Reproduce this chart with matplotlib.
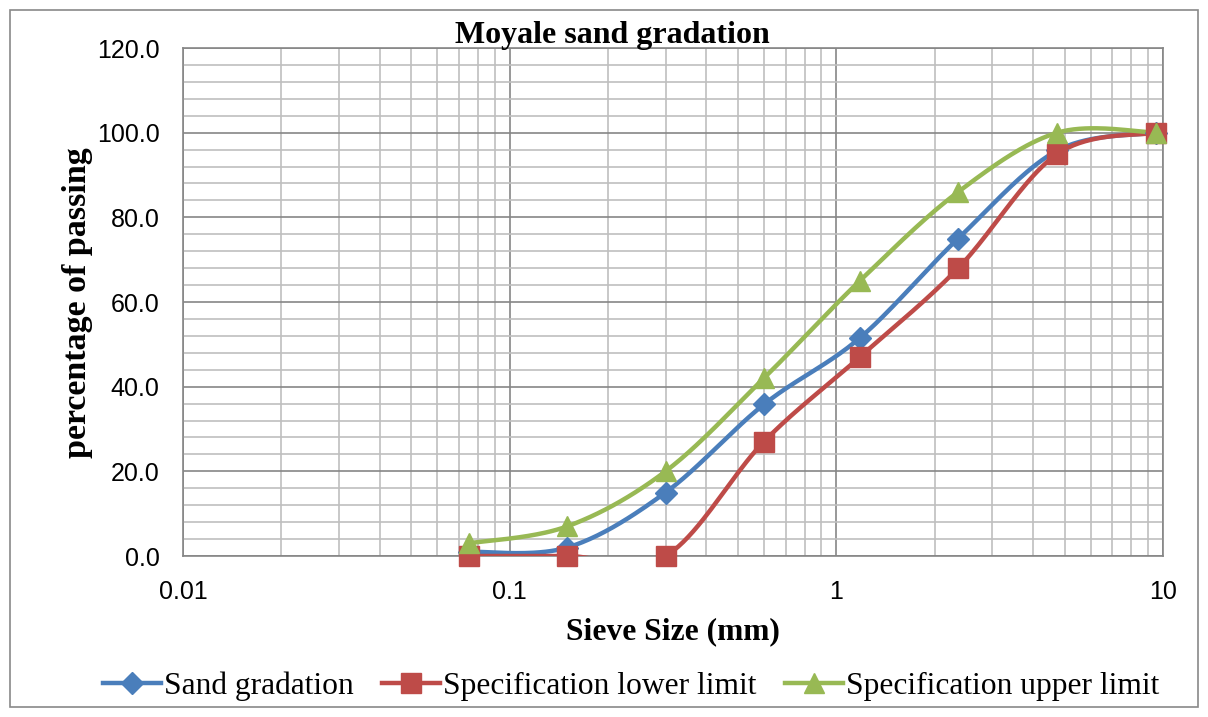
import numpy as np
import matplotlib
matplotlib.use("Agg")
import matplotlib.pyplot as plt
from matplotlib.patches import Rectangle
from matplotlib.ticker import FixedLocator, LogLocator, MultipleLocator, NullFormatter

# ---- data ----
sieve_mm = [0.075, 0.15, 0.3, 0.6, 1.18, 2.36, 4.75, 9.5]
sand_gradation = [1.0, 2.0, 15.0, 35.8, 51.5, 75.0, 95.8, 100.0]
spec_lower = [0.0, 0.0, 0.0, 27.0, 47.0, 68.0, 95.0, 100.0]
spec_upper = [3.0, 7.0, 20.0, 42.0, 65.0, 86.0, 100.0, 100.0]
series_names = ["Sand gradation", "Specification lower limit", "Specification upper limit"]
x_ticks = [0.01, 0.1, 1, 10]
x_tick_labels = ["0.01", "0.1", "1", "10"]

colors = ["#4A7EBB", "#BE4B48", "#98B954"]
markers = ["D", "s", "^"]
msizes = [11, 14, 15]


def smooth(xs, ys, n=40):
    """Excel-like smoothed line (Catmull-Rom Bezier) in log-x space."""
    lx = np.log10(np.asarray(xs, float))
    y = np.asarray(ys, float)
    P = np.column_stack([lx, y])
    out = []
    m = len(P)
    for i in range(m - 1):
        p0 = P[i - 1] if i > 0 else P[i]
        p1 = P[i]
        p2 = P[i + 1]
        p3 = P[i + 2] if i + 2 < m else P[i + 1]
        c1 = p1 + (p2 - p0) / 6.0
        c2 = p2 - (p3 - p1) / 6.0
        t = np.linspace(0, 1, n)[:, None]
        b = ((1 - t) ** 3) * p1 + 3 * ((1 - t) ** 2) * t * c1 + 3 * (1 - t) * t ** 2 * c2 + t ** 3 * p2
        out.append(b if i == 0 else b[1:])
    B = np.vstack(out)
    return 10 ** B[:, 0], B[:, 1]


fig = plt.figure(figsize=(12.08, 7.17), dpi=100)
fig.patches.append(Rectangle((10 / 1208, 1 - 707 / 717), 1188 / 1208, 697 / 717,
                             transform=fig.transFigure, fill=False,
                             edgecolor="#898989", linewidth=1.2))

ax = fig.add_axes([183 / 1208, 1 - 556 / 717, (1163 - 183) / 1208, (556 - 48) / 717])
ax.set_xscale("log")
ax.set_xlim(0.01, 10)
ax.set_ylim(0, 120)

ax.xaxis.set_major_locator(FixedLocator(x_ticks))
ax.set_xticklabels(x_tick_labels)
ax.xaxis.set_minor_locator(LogLocator(base=10, subs=np.arange(2, 10), numticks=20))
ax.xaxis.set_minor_formatter(NullFormatter())
ax.yaxis.set_major_locator(MultipleLocator(20))
ax.yaxis.set_minor_locator(MultipleLocator(4))
ax.set_yticklabels([f"{v:.1f}" for v in ax.get_yticks()])

ax.grid(which="major", color="#868686", linewidth=1.2)
ax.grid(which="minor", color="#BFBFBF", linewidth=1.2)
ax.set_axisbelow(True)
for s in ax.spines.values():
    s.set_color("#868686")
    s.set_linewidth(1.2)
ax.tick_params(which="both", length=0, labelsize=18)
ax.tick_params(axis="y", pad=17)
ax.tick_params(axis="x", pad=17)
for lbl in ax.get_xticklabels() + ax.get_yticklabels():
    lbl.set_family("Liberation Sans")

for ys, c, mk, ms, name in zip([sand_gradation, spec_lower, spec_upper], colors, markers, msizes, series_names):
    sx, sy = smooth(sieve_mm, ys)
    ax.plot(sx, sy, color=c, linewidth=3.2, solid_capstyle="round", zorder=3)
    ax.plot(sieve_mm, ys, linestyle="none", marker=mk, markersize=ms, color=c,
            markeredgecolor=c, zorder=4, clip_on=False)
    ax.plot([], [], color=c, linewidth=3.2, marker=mk, markersize=ms, label=name)

fig.text(612 / 1208, 1 - 35 / 717, "Moyale sand gradation", ha="center", va="center",
         family="Liberation Serif", fontweight="bold", fontsize=23)
fig.text(673 / 1208, 1 - 632 / 717, "Sieve Size (mm)", ha="center", va="center",
         family="Liberation Serif", fontweight="bold", fontsize=22.7)
fig.text(78 / 1208, 1 - 303 / 717, "percentage of passing", ha="center", va="center",
         rotation=90, family="Liberation Serif", fontweight="bold", fontsize=24.5)

leg = fig.legend(loc="center", bbox_to_anchor=(631 / 1208, 1 - 686 / 717), ncol=3,
                 frameon=False, prop={"family": "Liberation Serif", "size": 22.7},
                 handlelength=1.85, handletextpad=0.08, columnspacing=0.9)

fig.savefig("out.png", dpi=100)
